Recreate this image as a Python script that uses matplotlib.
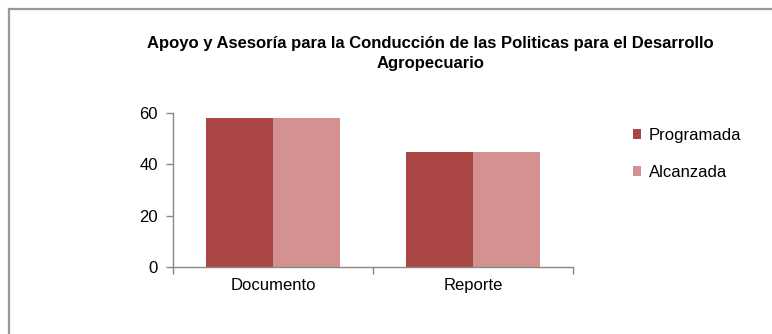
import matplotlib
matplotlib.use("Agg")
import matplotlib.pyplot as plt
from matplotlib.lines import Line2D
from matplotlib.ticker import FixedLocator, NullFormatter
import numpy as np

plt.rcParams['font.family'] = ['Liberation Sans', 'DejaVu Sans']

categories = ["Documento", "Reporte"]
programada = [58, 45]
alcanzada = [58, 45]
series_names = ["Programada", "Alcanzada"]
title = "Apoyo y Asesoría para la Conducción de las Politicas para el Desarrollo\nAgropecuario"

W, H = 772, 334
fig = plt.figure(figsize=(W / 100, H / 100), dpi=100)
ax = fig.add_axes([173.3 / W, 1 - 266.7 / H, 400 / W, 153.4 / H])

x = np.arange(len(categories))
bw = 0.335
ax.bar(x - bw / 2, programada, bw, color="#AA4744", label=series_names[0])
ax.bar(x + bw / 2, alcanzada, bw, color="#D39291", label=series_names[1])

ax.set_xlim(-0.5, len(categories) - 0.5)
ax.set_ylim(0, 60)
ax.set_yticks([0, 20, 40, 60])
ax.tick_params(axis='y', labelsize=12, length=5, width=1, color="#888888", pad=6)

ax.xaxis.set_major_locator(FixedLocator(np.arange(len(categories) + 1) - 0.5))
ax.xaxis.set_major_formatter(NullFormatter())
ax.xaxis.set_minor_locator(FixedLocator(x))
ax.set_xticklabels(categories, minor=True)
ax.tick_params(axis='x', which='major', length=5, width=1, color="#888888")
ax.tick_params(axis='x', which='minor', length=0, labelsize=12, pad=8)

for s in ["top", "right"]:
    ax.spines[s].set_visible(False)
for s in ["left", "bottom"]:
    ax.spines[s].set_color("#888888")
    ax.spines[s].set_linewidth(1)

fig.text(430.5 / W, 1 - 53.5 / H, title, ha="center", va="center", fontsize=12,
         fontweight="bold", linespacing=1.35)

leg = fig.legend(loc="upper left", bbox_to_anchor=(633 / W, 1 - 128 / H),
                 frameon=False, fontsize=12, handlelength=0.5, handleheight=0.5,
                 handletextpad=0.45, labelspacing=1.3, borderaxespad=0, borderpad=0)

fig.add_artist(Line2D([9 / W, 1.0], [1 - 9 / H, 1 - 9 / H], color="#999999", lw=1.6,
                      transform=fig.transFigure))
fig.add_artist(Line2D([9 / W, 9 / W], [0, 1 - 9 / H], color="#999999", lw=1.6,
                      transform=fig.transFigure))

fig.savefig("out.png", dpi=100)
